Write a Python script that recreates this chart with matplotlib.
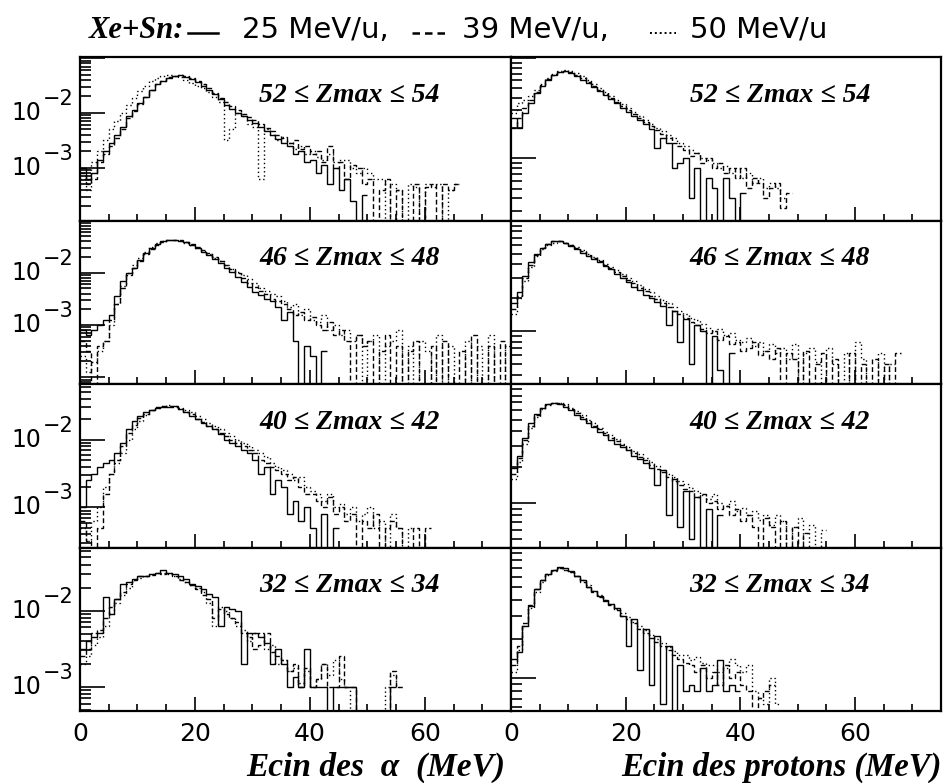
import matplotlib
matplotlib.use('Agg')
import matplotlib.pyplot as plt
import numpy as np
from matplotlib.lines import Line2D
from matplotlib.ticker import LogLocator, NullFormatter, FixedLocator, MultipleLocator
from matplotlib.transforms import blended_transform_factory, offset_copy

# ---------------- data (log10 of dN/dE, 1 MeV bins starting at 0 MeV; None = empty bin) -------------
energy_bin_width = 1.0
zmax_labels = ['52 ≤ Zmax ≤ 54', '46 ≤ Zmax ≤ 48', '40 ≤ Zmax ≤ 42', '32 ≤ Zmax ≤ 34']
series_names = ['25 MeV/u', '39 MeV/u', '50 MeV/u']
x_tick_labels = ['0', '20', '40', '60']
y_labelled_decades = [-2, -3]

# alpha, 52 <= Zmax <= 54
alpha_52_25 = [-3.0,-3.2,-3.1,-2.85,-2.7,-2.55,-2.4,-2.25,-2.05,-1.95,-1.82,-1.7,-1.58,-1.48,-1.42,-1.36,-1.33,-1.31,-1.34,-1.38,-1.44,-1.5,-1.58,-1.66,-1.75,-1.85,-1.93,-2.0,-2.06,-2.12,-2.18,-2.25,-2.32,-2.4,-2.47,-2.55,-2.6,-2.75,-2.7,-2.9,-2.85,-3.1,-2.95,-3.3,-3.0,-3.4,-3.2,-3.6,None,-3.5]
alpha_52_39 = [-3.1,-3.3,-3.2,-2.9,-2.75,-2.6,-2.45,-2.3,-2.1,-1.97,-1.83,-1.7,-1.58,-1.48,-1.41,-1.35,-1.32,-1.31,-1.33,-1.37,-1.42,-1.48,-1.55,-1.63,-1.72,-1.8,-1.88,-1.95,-2.02,-2.08,-2.12,-2.2,-2.27,-2.33,-2.4,-2.45,-2.55,-2.5,-2.65,-2.6,-2.75,-2.7,-2.9,-2.6,-3.0,-2.9,-3.2,-2.95,-3.0,-3.3,-3.2,None,-3.4,-3.2,None,-3.4,None,None,-3.3,None,-3.35,-3.3,None,-3.3,-3.4,-3.3]
alpha_52_50 = [-3.2,-3.4,-2.9,-2.7,-2.5,-2.3,-2.15,-2.0,-1.85,-1.72,-1.6,-1.5,-1.42,-1.36,-1.32,-1.3,-1.32,-1.35,-1.4,-1.45,-1.5,-1.55,-1.62,-1.7,-1.8,-2.5,-2.3,-2.0,-2.05,-2.2,-2.25,-3.2,-2.3,-2.4,-2.5,-2.44,-2.55,-2.65,-2.6,-2.75,-2.7,-2.8,-2.85,-2.75,-2.9,-2.85,-2.85,-3.0,-3.1,-3.0,-3.1,-3.2,-3.2,None,-3.3,-3.4,None,-3.3,-3.35,None,-3.3,-3.35,-3.3,None,-3.4,-3.3]

# alpha, 46 <= Zmax <= 48
alpha_46_25 = [-3.1,-3.2,-3.1,-3.0,-2.9,-2.8,-2.45,-2.15,-2.0,-1.9,-1.75,-1.62,-1.52,-1.45,-1.4,-1.37,-1.37,-1.39,-1.42,-1.47,-1.53,-1.6,-1.67,-1.74,-1.82,-1.9,-1.98,-2.08,-2.17,-2.27,-2.37,-2.43,-2.5,-2.55,-2.65,-2.9,-2.75,-3.3,None,-3.4,-3.6,None,-3.5]
alpha_46_39 = [-3.3,-3.5,None,-3.4,-3.3,-2.9,-2.6,-2.3,-2.05,-1.9,-1.78,-1.65,-1.55,-1.47,-1.41,-1.38,-1.37,-1.38,-1.41,-1.45,-1.5,-1.56,-1.62,-1.7,-1.77,-1.85,-1.93,-2.0,-2.1,-2.2,-2.28,-2.35,-2.4,-2.5,-2.55,-2.6,-2.7,-2.8,-2.75,-2.9,-2.85,-3.0,-3.1,-2.95,-3.2,-3.1,-3.3,None,-3.2,-3.4,-3.3,None,-3.5,-3.2,None,-3.4,None,-3.5,-3.3,None,None,-3.4,None,-3.3,None,None,-3.5,None,-3.2,None,None,-3.4,None,-3.3,None]
alpha_46_50 = [-3.6,-3.9,-3.7,-3.5,-3.3,-3.0,-2.6,-2.25,-2.0,-1.85,-1.72,-1.6,-1.5,-1.43,-1.39,-1.37,-1.38,-1.4,-1.43,-1.47,-1.52,-1.58,-1.64,-1.72,-1.78,-1.85,-1.92,-1.98,-2.05,-2.12,-2.2,-2.3,-2.35,-2.4,-2.45,-2.55,-2.65,-2.6,-2.8,-2.7,-2.9,-2.95,-2.8,-3.1,-3.0,-3.2,-3.1,-3.3,-3.2,None,-3.3,-3.2,None,-3.4,-3.3,-3.1,None,-3.4,None,-3.3,-3.5,None,-3.2,None,-3.4,None,None,-3.3,None,-3.4,None,-3.2,None,None,-3.4]

# alpha, 40 <= Zmax <= 42
alpha_40_25 = [-3.0,-2.6,-2.5,-2.4,-2.35,-2.3,-2.2,-2.05,-1.85,-1.72,-1.65,-1.6,-1.56,-1.53,-1.52,-1.52,-1.5,-1.55,-1.6,-1.65,-1.7,-1.75,-1.8,-1.85,-1.92,-2.0,-2.05,-2.1,-2.15,-2.2,-2.3,-2.5,-2.4,-2.8,-2.6,-2.7,-3.1,-2.9,-3.2,-3.0,-3.3,None,-3.1,None,-3.3]
alpha_40_39 = [-3.2,-3.5,None,-3.3,-2.8,-2.5,-2.3,-2.1,-1.9,-1.78,-1.68,-1.62,-1.56,-1.52,-1.5,-1.5,-1.52,-1.55,-1.6,-1.62,-1.7,-1.74,-1.8,-1.85,-1.9,-1.95,-2.0,-2.05,-2.1,-2.15,-2.2,-2.3,-2.35,-2.4,-2.45,-2.5,-2.6,-2.55,-2.7,-2.8,-2.8,-2.9,-3.0,-2.85,-3.1,-3.0,-3.2,-3.1,None,-3.2,-3.3,-3.1,None,-3.3,-3.2,-3.3,None,None,-3.3,None,-3.3]
alpha_40_50 = [-3.3,-3.5,-3.2,-3.0,-2.7,-2.5,-2.35,-2.2,-2.0,-1.85,-1.72,-1.63,-1.57,-1.53,-1.5,-1.49,-1.5,-1.53,-1.57,-1.6,-1.65,-1.7,-1.75,-1.8,-1.85,-1.9,-1.95,-2.0,-2.05,-2.1,-2.15,-2.2,-2.25,-2.35,-2.4,-2.45,-2.5,-2.6,-2.55,-2.7,-2.75,-2.8,-2.9,-2.8,-3.0,-2.95,-3.1,-3.0,-3.2,-3.1,-3.0,-3.3,-3.2,None,-3.1,-3.3,None,-3.3]

# alpha, 32 <= Zmax <= 34
alpha_32_25 = [-2.5,-2.4,-2.35,-2.3,-1.82,-2.05,-1.85,-1.65,-1.62,-1.58,-1.55,-1.55,-1.52,-1.5,-1.47,-1.5,-1.52,-1.55,-1.58,-1.65,-1.68,-1.72,-1.78,-1.82,-2.2,-1.95,-1.98,-2.0,-2.7,-2.3,-2.3,-2.35,-2.42,-2.7,-2.5,-2.7,-3.0,-2.87,-3.0,-2.5,-3.0,-3.0,-3.0,None,-3.0,-3.0,-3.0,-3.0,None,None,None,None,None,None,-3.0]
alpha_32_39 = [-2.6,-2.5,-2.3,-2.25,-2.1,-1.95,-1.85,-1.75,-1.65,-1.6,-1.55,-1.55,-1.53,-1.5,-1.52,-1.5,-1.55,-1.6,-1.62,-1.66,-1.72,-1.8,-1.85,-2.1,-1.98,-2.05,-2.1,-2.15,-2.3,-2.35,-2.5,-2.45,-2.3,-2.55,-2.6,-2.65,-2.8,-2.7,-3.0,-2.75,-3.0,-2.9,-2.7,-3.0,-3.0,-2.6,-3.0,-3.0,None,None,None,None,None,None,-2.8,-3.0]
alpha_32_50 = [-2.7,-2.6,-2.45,-2.35,-2.2,-2.05,-1.9,-1.8,-1.7,-1.6,-1.57,-1.55,-1.52,-1.5,-1.5,-1.52,-1.55,-1.58,-1.62,-1.66,-1.7,-1.75,-1.9,-2.2,-1.95,-2.0,-2.1,-2.2,-2.25,-2.4,-2.3,-2.3,-2.5,-2.45,-2.7,-2.65,-2.8,-2.75,-2.95,-2.8,-3.0,-2.9,-2.7,-2.85,-2.65,-2.9,-3.0,None,None,None,None,None,None,-3.0,-2.85,-3.0]

# protons, 52 <= Zmax <= 54
proton_52_25 = [-1.6,-1.7,-1.55,-1.45,-1.35,-1.28,-1.22,-1.17,-1.14,-1.13,-1.15,-1.18,-1.22,-1.25,-1.29,-1.33,-1.37,-1.41,-1.45,-1.5,-1.54,-1.58,-1.62,-1.66,-1.71,-1.9,-1.8,-1.85,-2.1,-2.05,-2.0,-2.4,-2.1,-2.7,-2.2,-2.3,-2.7,-2.2,-2.4,-2.7,-2.35]
proton_52_39 = [-1.7,-1.6,-1.5,-1.42,-1.34,-1.27,-1.21,-1.17,-1.14,-1.13,-1.14,-1.17,-1.2,-1.24,-1.28,-1.32,-1.36,-1.4,-1.44,-1.48,-1.52,-1.56,-1.6,-1.64,-1.68,-1.72,-1.76,-1.8,-1.85,-1.88,-1.92,-1.98,-1.95,-2.05,-2.0,-2.1,-2.05,-2.15,-2.1,-2.2,-2.1,-2.3,-2.2,-2.25,-2.4,-2.3,-2.25,-2.5,-2.35]
proton_52_50 = [-1.55,-1.45,-1.42,-1.38,-1.32,-1.26,-1.2,-1.16,-1.13,-1.12,-1.13,-1.15,-1.18,-1.22,-1.26,-1.3,-1.34,-1.38,-1.42,-1.46,-1.5,-1.54,-1.58,-1.62,-1.66,-1.7,-1.73,-1.77,-1.8,-1.85,-1.88,-1.92,-1.95,-2.0,-2.02,-2.05,-2.1,-2.08,-2.15,-2.1,-2.2,-2.15,-2.25,-2.2,-2.3,-2.25,-2.3,-2.4]

# protons, 46 <= Zmax <= 48
proton_46_25 = [-1.75,-1.65,-1.5,-1.38,-1.3,-1.25,-1.21,-1.19,-1.19,-1.2,-1.23,-1.26,-1.29,-1.32,-1.35,-1.38,-1.41,-1.44,-1.48,-1.52,-1.56,-1.6,-1.63,-1.67,-1.7,-1.74,-1.77,-1.95,-1.82,-2.1,-1.89,-2.3,-1.95,-2.0,None,-2.05,-2.35,None,-2.2]
proton_46_39 = [-1.8,-1.68,-1.52,-1.4,-1.31,-1.25,-1.21,-1.19,-1.19,-1.2,-1.22,-1.25,-1.28,-1.31,-1.34,-1.37,-1.4,-1.43,-1.47,-1.5,-1.54,-1.57,-1.61,-1.64,-1.68,-1.71,-1.75,-1.78,-1.82,-1.85,-1.88,-1.92,-1.95,-1.98,-2.02,-2.0,-2.08,-2.05,-2.12,-2.1,-2.18,-2.15,-2.1,-2.22,-2.18,-2.25,-2.15,None,-2.2,-2.25,None,-2.18,None,-2.3,-2.2,None,-2.25,None,None,-2.2,None,-2.3,None,-2.25,None,-2.3,None,-2.2]
proton_46_50 = [-1.85,-1.7,-1.55,-1.42,-1.32,-1.26,-1.22,-1.2,-1.19,-1.2,-1.22,-1.24,-1.27,-1.3,-1.33,-1.36,-1.39,-1.42,-1.45,-1.48,-1.52,-1.55,-1.58,-1.62,-1.65,-1.68,-1.72,-1.75,-1.78,-1.82,-1.85,-1.88,-1.9,-1.94,-1.97,-2.0,-1.98,-2.04,-2.02,-2.08,-2.1,-2.06,-2.14,-2.1,-2.18,-2.12,-2.2,-2.15,-2.25,-2.12,None,-2.2,-2.15,-2.28,None,-2.15,-2.3,None,-2.2,None,-2.1,-2.25,None,None,-2.2,None,-2.3]

# protons, 40 <= Zmax <= 42
proton_40_25 = [-1.7,-1.6,-1.45,-1.33,-1.25,-1.2,-1.17,-1.16,-1.17,-1.19,-1.22,-1.26,-1.29,-1.33,-1.36,-1.4,-1.43,-1.47,-1.5,-1.53,-1.55,-1.6,-1.63,-1.66,-1.7,-1.85,-1.72,-2.1,-1.8,-2.2,-1.9,-2.3,-1.95,None,-2.05,None,-2.1]
proton_40_39 = [-1.75,-1.62,-1.47,-1.35,-1.26,-1.2,-1.17,-1.16,-1.16,-1.18,-1.21,-1.24,-1.28,-1.31,-1.35,-1.38,-1.41,-1.45,-1.48,-1.51,-1.55,-1.58,-1.61,-1.64,-1.68,-1.71,-1.74,-1.78,-1.81,-1.85,-1.88,-1.9,-1.95,-1.92,-2.0,-1.98,-2.05,-2.02,-2.1,-2.05,-2.15,-2.1,-2.2,None,-2.12,-2.2,None,-2.15,None,-2.2,None,-2.25]
proton_40_50 = [-1.8,-1.65,-1.5,-1.37,-1.28,-1.21,-1.18,-1.16,-1.16,-1.17,-1.2,-1.23,-1.26,-1.3,-1.33,-1.37,-1.4,-1.43,-1.46,-1.5,-1.53,-1.56,-1.59,-1.62,-1.65,-1.69,-1.72,-1.75,-1.78,-1.81,-1.84,-1.87,-1.9,-1.93,-1.96,-1.92,-2.0,-2.02,-1.98,-2.06,-2.04,-2.1,-2.06,-2.14,-2.1,-2.18,-2.1,-2.15,None,-2.2,-2.12,None,-2.18,None,-2.22]

# protons, 32 <= Zmax <= 34
proton_32_25 = [-1.85,-1.8,-1.6,-1.45,-1.32,-1.25,-1.2,-1.17,-1.15,-1.16,-1.18,-1.22,-1.25,-1.3,-1.33,-1.37,-1.4,-1.43,-1.46,-1.52,-1.75,-1.55,-1.94,-1.62,-2.05,-1.68,-2.2,-1.75,None,-1.9,-2.1,-2.05,-2.1,-1.92,-2.1,-2.05,-1.86,-2.1,-2.05,-2.1]
proton_32_39 = [-1.9,-1.75,-1.58,-1.44,-1.32,-1.25,-1.2,-1.17,-1.16,-1.17,-1.19,-1.22,-1.26,-1.3,-1.34,-1.38,-1.41,-1.44,-1.48,-1.52,-1.55,-1.58,-1.62,-1.65,-1.69,-1.72,-1.75,-1.78,-1.82,-1.85,-1.88,-1.9,-1.95,-1.9,-2.0,-1.95,-2.05,-1.9,-2.0,-1.95,-2.05,-2.1,None,-2.15,-2.1,-2.05]
proton_32_50 = [-1.95,-1.78,-1.6,-1.46,-1.34,-1.26,-1.21,-1.18,-1.16,-1.17,-1.19,-1.22,-1.25,-1.29,-1.33,-1.36,-1.4,-1.43,-1.47,-1.5,-1.53,-1.57,-1.6,-1.63,-1.67,-1.7,-1.73,-1.76,-1.79,-1.82,-1.82,-1.86,-1.84,-1.88,-1.9,-1.9,-1.95,-1.92,-1.85,-1.9,-1.95,-1.9,-2.1,-2.15,-2.2,-2.0,-2.2]

alpha_series = [
    (alpha_52_25, alpha_52_39, alpha_52_50),
    (alpha_46_25, alpha_46_39, alpha_46_50),
    (alpha_40_25, alpha_40_39, alpha_40_50),
    (alpha_32_25, alpha_32_39, alpha_32_50),
]
proton_series = [
    (proton_52_25, proton_52_39, proton_52_50),
    (proton_46_25, proton_46_39, proton_46_50),
    (proton_40_25, proton_40_39, proton_40_50),
    (proton_32_25, proton_32_39, proton_32_50),
]

# ---------------- style / layout ----------------
W, H = 945, 783
fig = plt.figure(figsize=(W / 100, H / 100), dpi=100)
serif = ['Liberation Serif', 'DejaVu Serif']
sans = ['DejaVu Sans']

# log10 y-limits of each panel (lower, upper)
alpha_ylims = [(-3.96, -0.98), (-4.13, -1.0), (-3.59, -1.18), (-3.32, -1.17)]
proton_ylims = [(-2.62, -0.99), (-2.48, -1.0), (-2.37, -1.0), (-2.25, -1.0)]

linestyles = ['-', (0, (3.5, 2.0)), (0, (1.0, 2.0))]
xmax = 75.0

panel_left = [80, 511]
panel_w = [431, 430]
top_px, bot_px = 57, 711
row_h = (bot_px - top_px) / 4.0


def to_vals(logs):
    return np.array([10.0 ** v if v is not None else 1e-12 for v in logs])


for col in range(2):
    for row in range(4):
        y0 = top_px + row * row_h
        ax = fig.add_axes([panel_left[col] / W, 1 - (y0 + row_h) / H,
                           panel_w[col] / W, row_h / H])
        ax.set_yscale('log')
        lims = alpha_ylims[row] if col == 0 else proton_ylims[row]
        ax.set_ylim(10 ** lims[0], 10 ** lims[1])
        ax.set_xlim(0, xmax)
        data = alpha_series[row] if col == 0 else proton_series[row]
        for s, ls in zip(data, linestyles):
            vals = to_vals(s)
            edges = np.arange(len(vals) + 1) * energy_bin_width
            ax.stairs(vals, edges, color='black', lw=1.0, linestyle=ls,
                      baseline=None)
        for sp in ax.spines.values():
            sp.set_linewidth(1.6)
        ax.xaxis.set_major_locator(FixedLocator([0, 20, 40, 60]))
        ax.xaxis.set_minor_locator(MultipleLocator(5))
        ax.yaxis.set_major_locator(LogLocator(base=10, numticks=10))
        ax.yaxis.set_minor_locator(LogLocator(base=10, subs=np.arange(2, 10), numticks=20))
        ax.yaxis.set_minor_formatter(NullFormatter())
        ax.yaxis.set_major_formatter(NullFormatter())
        ax.tick_params(axis='both', which='both', direction='in',
                       top=False, right=False, width=1.2, color='black')
        ax.tick_params(axis='x', which='major', length=10)
        ax.tick_params(axis='x', which='minor', length=5)
        ax.tick_params(axis='y', which='major', length=18)
        ax.tick_params(axis='y', which='minor', length=8)
        if row == 3:
            ax.set_xticklabels(x_tick_labels, fontsize=18, family=sans)
            ax.tick_params(axis='x', pad=8)
        else:
            ax.set_xticklabels([])
        if col == 0:
            tr = blended_transform_factory(fig.transFigure, ax.transData)
            tr_sup = offset_copy(tr, fig=fig, x=0, y=14, units='dots')
            for e in y_labelled_decades:
                fig.text(41 / W, 10.0 ** e, '10', transform=tr, ha='right',
                         va='center', fontsize=17, family=sans)
                fig.text(43 / W, 10.0 ** e, '\u2212%d' % (-e), transform=tr_sup,
                         ha='left', va='center', fontsize=15, family=sans)
        ax.text(0.625, 0.765, zmax_labels[row], transform=ax.transAxes,
                ha='center', va='center', fontsize=20, fontweight='bold',
                fontstyle='italic', family=serif)

# x-axis titles
fig.text(505 / W, 1 - 767 / H, 'Ecin des  α  (MeV)', ha='right', va='center',
         fontsize=24, fontweight='bold', fontstyle='italic', family=serif)
fig.text(942 / W, 1 - 767 / H, 'Ecin des protons (MeV)', ha='right', va='center',
         fontsize=23.5, fontweight='bold', fontstyle='italic', family=serif)

# header legend
ty = 1 - 30 / H
fig.text(89 / W, ty, 'Xe+Sn:', ha='left', va='center', fontsize=22,
         fontweight='bold', fontstyle='italic', family=serif)
fig.add_artist(Line2D([188 / W, 218 / W], [1 - 33 / H, 1 - 33 / H], color='black',
                      lw=1.8, linestyle=linestyles[0], transform=fig.transFigure))
fig.text(242 / W, ty, series_names[0] + ',', ha='left', va='center', fontsize=21, family=sans)
fig.add_artist(Line2D([412 / W, 445 / W], [1 - 33 / H, 1 - 33 / H], color='black',
                      lw=1.8, linestyle=(0, (3.0, 2.0)), transform=fig.transFigure))
fig.text(462 / W, ty, series_names[1] + ',', ha='left', va='center', fontsize=21, family=sans)
fig.add_artist(Line2D([650 / W, 676 / W], [1 - 33 / H, 1 - 33 / H], color='black',
                      lw=1.4, linestyle=(0, (1.0, 1.5)), transform=fig.transFigure))
fig.text(690 / W, ty, series_names[2], ha='left', va='center', fontsize=21, family=sans)

fig.savefig('out.png', dpi=100, facecolor='white')
